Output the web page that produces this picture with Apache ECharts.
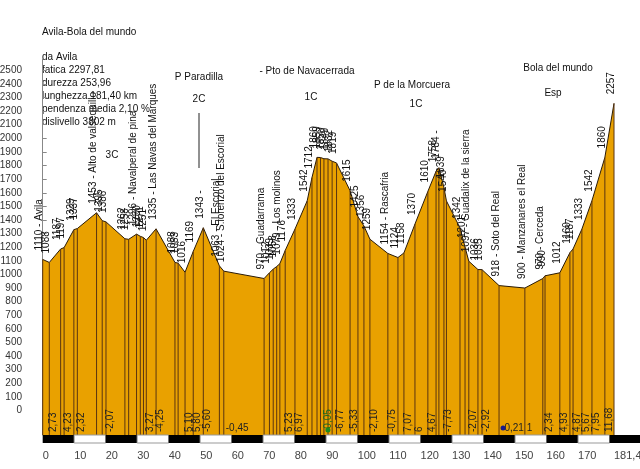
<!DOCTYPE html>
<html><head><meta charset="utf-8">
<script src="https://cdn.jsdelivr.net/npm/echarts@6/dist/echarts.min.js"></script>
<style>html,body{margin:0;padding:0;background:#fff}#c{width:640px;height:469px}</style>
</head><body><div id="c"></div>
<script>
// profile points (km, elevation m)
const km = [0,2.1,5.7,6.8,9.9,11.0,17.1,18.9,20.1,26.1,27.3,29.8,31.0,32.0,32.9,36.0,42.0,43.0,45.2,47.8,51.0,56.1,57.5,70.3,72.0,73.2,74.3,75.3,77.0,80.1,84.0,85.5,87.1,88.2,89.3,90.6,91.9,93.3,97.6,100.1,102.0,103.9,109.6,112.8,114.7,118.2,122.3,124.9,125.8,127.4,128.2,132.5,134.1,135.3,138.2,139.5,144.9,153.1,158.8,159.5,164.2,167.4,168.4,171.2,174.4,178.5,181.4];
const elev = [1110,1088,1187,1197,1329,1337,1453,1395,1386,1262,1258,1296,1280,1271,1251,1335,1088,1083,1016,1169,1343,1063,1024,970,1012,1039,1058,1079,1176,1333,1542,1712,1860,1859,1850,1849,1832,1819,1615,1425,1356,1259,1154,1124,1158,1370,1610,1758,1784,1639,1540,1342,1201,1097,1036,1035,918,900,970,990,1012,1160,1187,1333,1542,1860,2257];
// place names attached to points
const nameIdx = [0,6,11,15,20,21,22,23,27,42,48,53,56,57,58];
const nameText = ['Avila','Alto de valsequillo','Navalperal de pina','Las Navas del Marques','','El Escorial','S.lorenzo del Escorial','Guadarrama','Los molinos','Rascafria','','Guadalix de la sierra','Soto del Real','Manzanares el Real','Cerceda'];
// gradient (%) labels by segment start index
const gradIdx = [1,3,5,8,14,15,18,19,20,22,28,29,34,37,38,41,42,44,45,46,49,53,55,56,57,59,60,62,63,64,65];
const gradText = ['2,73','4,23','2,32','-2,07','3,27','-4,25','5,10','5,80','-5,60','-0,45','5,23','6,97','-0,05','-6,77','-5,33','-2,10','-0,75','7,07','6','4,67','-7,73','-2,07','-2,92','-0,21','1','2,34','4,93','4,87','5,67','7,95','11,68'];
const gradHoriz = [22,56,57];
const gradGreen = [34];
const gradBlue = [56];
// axes
const xTicks = [0,10,20,30,40,50,60,70,80,90,100,110,120,130,140,150,160,170,181.4];
const yTicks = [0,100,200,300,400,500,600,700,800,900,1000,1100,1200,1300,1400,1500,1600,1700,1800,1900,2000,2100,2200,2300,2400,2500];
const blockStarts = [0,10,20,30,40,50,60,70,80,90,100,110,120,130,140,150,160,170,180];
// annotations
const title = 'Avila-Bola del mundo';
const infoLines = ['da Avila','fatica 2297,81','durezza 253,96','lunghezza 181,40 km','pendenza media 2,10 %','dislivello 3802 m'];

const Y_MIN = -180, Y_MAX = 2583;
const FONT = '"Liberation Sans", Arial, sans-serif';
const profile = km.map((k,i)=>[k, elev[i]]);
const nameMap = {}; nameIdx.forEach((i,j)=>nameMap[i]=nameText[j]);
const pointLabels = profile.map((p,i)=>[p[0],p[1], (i in nameMap) ? (p[1]+' - '+nameMap[i]) : String(p[1])]);
const gradData = gradIdx.map((i,j)=>[km[i], i, gradText[j]]);

const chart = echarts.init(document.getElementById('c'), null, {renderer:'canvas'});
const txt = (text, x, y, align) => ({type:'text', x, y, style:{text, fill:'#111', font:'10px '+FONT, align: align||'left', verticalAlign:'middle'}});
const graphics = [txt(title, 42, 32)];
infoLines.forEach((t,i)=>graphics.push(txt(t, 42, 57 + i*13.1)));
graphics.push(txt('P Paradilla',199,77,'center'), txt('2C',199,99,'center'),
  txt('- Pto de Navacerrada',307,71,'center'), txt('1C',311,97,'center'),
  txt('P de la Morcuera',412,85,'center'), txt('1C',416,104,'center'),
  txt('Bola del mundo',558,68,'center'), txt('Esp',553,93,'center'),
  txt('3C',112,155,'center'),
  {type:'line', shape:{x1:199,y1:113,x2:199,y2:168}, style:{stroke:'#222', lineWidth:1}});

chart.setOption({
  animation:false,
  backgroundColor:'#fff',
  grid:{left:26, right:26, top:59, bottom:34, containLabel:false, outerBoundsMode:'none'},
  xAxis:{type:'value', min:-5.3, max:181.4,
    axisLine:{show:false}, axisTick:{show:false}, splitLine:{show:false},
    axisLabel:{customValues:xTicks, align:'left', margin:15, color:'#444', fontSize:11, fontFamily:FONT,
      formatter:v=> Math.abs(v-181.4)<0.01 ? '181,40' : String(v)}},
  yAxis:{type:'value', min:Y_MIN, max:Y_MAX,
    axisLine:{show:true, lineStyle:{color:'#888', width:1}},
    axisTick:{show:true, inside:true, length:4, customValues:yTicks, lineStyle:{color:'#888'}},
    splitLine:{show:false},
    axisLabel:{customValues:yTicks, margin:4, color:'#333', fontSize:10, fontFamily:FONT, formatter:v=>String(v)}},
  graphic: graphics,
  series:[
    {type:'line', data:profile, showSymbol:false, symbol:'none', z:2,
     lineStyle:{color:'#2a1a05', width:1},
     areaStyle:{color:'#E9A100', opacity:1, origin:'start'}},
    {type:'custom', z:3, clip:false, data:pointLabels, encode:{x:0,y:1},
     renderItem:(params, api)=>{
       const i = params.dataIndex;
       const p = api.coord([api.value(0), api.value(1)]);
       const b = api.coord([api.value(0), Y_MIN]);
       const label = pointLabels[i][2];
       return {type:'group', children:[
         {type:'line', shape:{x1:p[0],y1:p[1],x2:b[0],y2:b[1]}, style:{stroke:'#5a3510', lineWidth:1}},
         {type:'text', x:p[0]-3, y:p[1]-9, rotation:Math.PI/2,
          style:{text:label, fill:'#111', font:'10px '+FONT, align:'left', verticalAlign:'middle'}}
       ]};
     }},
    {type:'custom', z:4, clip:false, data:gradData, encode:{x:0,y:1},
     renderItem:(params, api)=>{
       const d = gradData[params.dataIndex];
       const idx = d[1];
       const p = api.coord([d[0], Y_MIN]);
       const green = gradGreen.includes(idx), blue = gradBlue.includes(idx);
       const col = green ? '#1d6b1d' : '#222';
       const ch = [];
       if (gradHoriz.includes(idx)) {
         ch.push({type:'text', x:p[0]+2, y:p[1]-7, style:{text:d[2], fill:col, font:'10px '+FONT, align:'left', verticalAlign:'middle'}});
         if (blue) ch.push({type:'circle', shape:{cx:p[0]+4, cy:p[1]-7, r:2.5}, style:{fill:'#1a1a8a'}});
       } else {
         ch.push({type:'text', x:p[0]+4, y:p[1]-3, rotation:Math.PI/2, style:{text:d[2], fill:col, font:'10px '+FONT, align:'left', verticalAlign:'middle'}});
         if (green) ch.push({type:'circle', shape:{cx:p[0]+4, cy:p[1]-5, r:2.5}, style:{fill:'#1d8a1d'}});
       }
       return {type:'group', children:ch};
     }},
    {type:'custom', z:5, clip:false, data:blockStarts.map(s=>[s, Y_MIN]), encode:{x:0,y:1},
     renderItem:(params, api)=>{
       const s = api.value(0);
       const a = api.coord([s, Y_MIN]), c = api.coord([s+10, Y_MIN]);
       const black = params.dataIndex % 2 === 0;
       return {type:'rect', shape:{x:a[0], y:a[1], width:c[0]-a[0], height:8},
         style: black ? {fill:'#000'} : {fill:'#fff', stroke:'#999', lineWidth:1}};
     }}
  ]
});
</script></body></html>
